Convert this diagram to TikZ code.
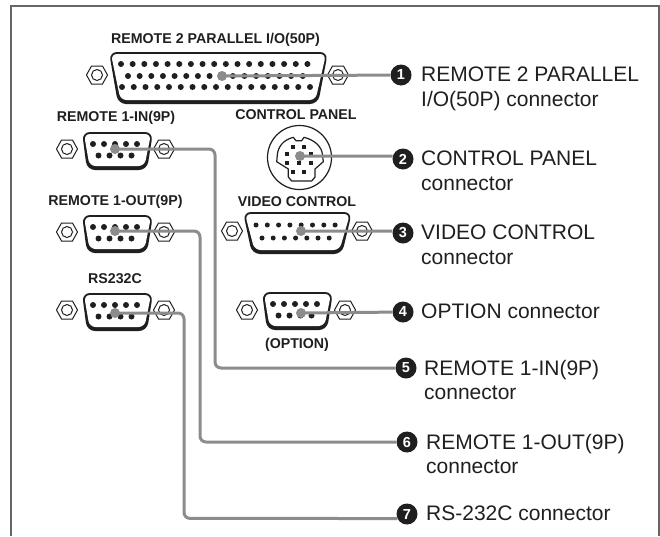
\documentclass[tikz,border=0pt]{standalone}
\usepackage{fontspec}
\setmainfont{Liberation Sans}
\definecolor{leader}{gray}{0.55}
\definecolor{ink}{gray}{0.12}
\definecolor{framec}{gray}{0.4}
\tikzset{x=1pt,y=-1pt,
 lead/.style={draw=leader,line width=3pt,rounded corners=6pt},
 hdr/.style={font=\fontsize{14.2pt}{16pt}\selectfont\bfseries,text=ink,inner sep=0pt,anchor=center},
 desc/.style={font=\fontsize{21pt}{24.5pt}\selectfont,text=ink,inner sep=0pt,anchor=north west,align=left},
 num/.style={circle,fill=ink,text=white,inner sep=0pt,minimum size=21pt,font=\fontsize{14.5pt}{14pt}\selectfont\bfseries},
 anchorpt/.style={circle,fill=leader,inner sep=0pt,minimum size=10pt}
}
\newcommand{\hexscrew}[2]{%
 \draw[ink,line width=1pt,fill=white] (#1-10.5,#2)--(#1-5.5,#2-9)--(#1+5.5,#2-9)--(#1+10.5,#2)--(#1+5.5,#2+9)--(#1-5.5,#2+9)--cycle;
 \draw[ink,line width=1pt] (#1,#2) circle (5.5pt);}
% shell: top-left x, top-right x, top y, bottom-right x, bottom-left x, bottom y
\newcommand{\shell}[6]{%
 \fill[ink,rounded corners=8pt] (#1,#3)--(#2,#3)--(#4,#6)--(#5,#6)--cycle;
 \fill[white,rounded corners=6pt] (#1+2,#3+2)--(#2-2,#3+2)--(#4-2.5,#6-4)--(#5+2.5,#6-4)--cycle;}
\newcommand{\dbnine}[2]{%
 \shell{#1-33}{#1+38}{#2}{#1+32}{#1-28}{#2+38}
 \foreach \p in {-22,-11,0,11,22} \fill[ink] (#1+\p,#2+12) circle (3pt);
 \foreach \p in {-16.5,-5.5,5.5,16.5} \fill[ink] (#1+\p,#2+23.5) circle (3pt);}
\begin{document}
\begin{tikzpicture}
\useasboundingbox (0,0) rectangle (660,536);
\fill[white] (0,0) rectangle (660,536);
\draw[framec,line width=1.5pt] (11,536)--(11,6)--(659,6)--(659,536);

% 50P
\hexscrew{97}{75}
\hexscrew{338}{75}
\shell{109}{328}{52}{318}{118}{104}
\foreach \i in {0,...,16} \fill[ink] ({121+\i*11.65},64) circle (3pt);
\foreach \i in {0,...,15} \fill[ink] ({128+\i*11.65},76) circle (3pt);
\foreach \i in {0,...,16} \fill[ink] ({122+\i*11.75},87) circle (3pt);

% left connectors
\hexscrew{67}{149}\hexscrew{164}{149}\dbnine{115}{132}
\hexscrew{67}{232}\hexscrew{164}{232}\dbnine{115}{215}
\hexscrew{67}{310}\hexscrew{164}{310}\dbnine{115}{293}

% control panel
\draw[ink,line width=1.2pt,fill=white] (299.5,157.5) circle (32pt);
\draw[ink,line width=1.2pt,fill=white,line join=round]
 (293.3,137.3)--(296,140.7)--(301.7,140.7)--(304,137.3)
 .. controls (315,140) and (322,147) .. (322.5,155)
 --(323.3,161.7)--(315,169)--(315,177)--(311.7,181)--(291.7,181)--(288.3,177)--(288.3,169)--(276.7,161.7)--(277.3,155)
 .. controls (278,147) and (283,140) .. (293.3,137.3)--cycle;
\foreach \a/\b in {293.3/146.7,304.3/146.7,287.3/154.3,310.7/154.3,287.3/162.7,298.7/162.7,310.7/162.7,293.3/171.7,304.3/171.7}
 \fill[ink] (\a-2,\b-2) rectangle (\a+2,\b+2);

% video control (15P)
\hexscrew{232}{231}\hexscrew{362}{231}
\shell{243}{352}{212}{342}{252}{254}
\foreach \i in {0,...,7} \fill[ink] ({256+\i*11.3},225) circle (2.5pt);
\foreach \i in {0,...,6} \fill[ink] ({262+\i*11.2},238) circle (2.5pt);

% option
\hexscrew{247}{310}\hexscrew{345}{310}\dbnine{295}{292}

% headings
\node[hdr] (h1) at (215.5,40) {REMOTE 2 PARALLEL I/O(50P)};
\node[hdr] (h2) at (116,118) {REMOTE 1-IN(9P)};
\node[hdr] (h3) at (296,115) {CONTROL PANEL};
\node[hdr] (h4) at (115.5,202) {REMOTE 1-OUT(9P)};
\node[hdr] (h5) at (297,202) {VIDEO CONTROL};
\node[hdr] (h6) at (115,279) {RS232C};
\node[hdr] (h7) at (297,345) {(OPTION)};

% badges
\node[num] (n1) at (401,75) {1};
\node[num] (n2) at (403,159) {2};
\node[num] (n3) at (403,233) {3};
\node[num] (n4) at (403,312) {4};
\node[num] (n5) at (406,368) {5};
\node[num] (n6) at (407,442) {6};
\node[num] (n7) at (407,514) {7};

% anchors
\coordinate (a1) at (222,76);
\coordinate (a2) at (300,156);
\coordinate (a3) at (301,231);
\coordinate (a4) at (301,313);
\coordinate (a5) at (115,149);
\coordinate (a6) at (115,231);
\coordinate (a7) at (115,313);
\coordinate (e2) at (n2.165);
\coordinate (e3) at (n3.170);
\coordinate (e7) at (n7.205);
\coordinate (v5) at (215,368);
\coordinate (v6) at (200,442);
\coordinate (v7) at (184,518.4);
\foreach \k in {1,...,7} \node[anchorpt] at (a\k) {};
\draw[lead] (a1)--(n1);
\draw[lead] (a2)-- (e2);
\draw[lead] (a3)-- (e3);
\draw[lead] (a4)-- (n4);
\draw[lead] (a5)-|(v5)--(n5);
\draw[lead] (a6)-|(v6)--(n6);
\draw[lead] (a7)-|(v7)--(e7);

% descriptions
\node[desc] (d1) at (421,67) {REMOTE 2 PARALLEL\\I/O(50P) connector};
\node[desc] (d2) at (421,151) {CONTROL PANEL\\connector};
\node[desc] (d3) at (421,225) {VIDEO CONTROL\\connector};
\node[desc] (d4) at (421,304) {OPTION connector};
\node[desc] (d5) at (424,360) {REMOTE 1-IN(9P)\\connector};
\node[desc] (d6) at (426,434) {REMOTE 1-OUT(9P)\\connector};
\node[desc] (d7) at (426,506) {RS-232C connector};
\end{tikzpicture}
\end{document}
